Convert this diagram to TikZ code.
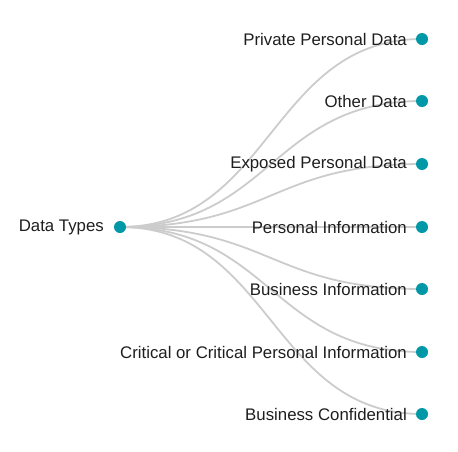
\documentclass[tikz,border=0pt]{standalone}
\usepackage{fontspec}
\setmainfont{Liberation Sans}
\definecolor{dotc}{HTML}{0097A7}
\definecolor{linkc}{HTML}{CCCCCC}
\definecolor{txtc}{HTML}{1E1E1E}
\begin{document}
\begin{tikzpicture}[x=1pt,y=-1pt,
  dot/.style={circle,fill=dotc,inner sep=0pt,minimum size=12pt},
  lbl/.style={font=\fontsize{16.8}{18}\selectfont,text=txtc,inner sep=0pt},
  link/.style={draw=linkc,line width=1.8pt}]
\useasboundingbox (0,0) rectangle (458,451);
\coordinate (r) at (120,227);
\foreach \n/\y/\t in {a/39/Private Personal Data,b/101/Other Data,c/164/Exposed Personal Data,d/227/Personal Information,e/289/Business Information,f/352/Critical or Critical Personal Information,g/414/Business Confidential}{
  \coordinate (\n) at (422,\y);
  \draw[link] (r) .. controls (271,227) and (271,\y) .. (\n);
}
\node[dot] (root) at (r) {};
\node[lbl,anchor=east] (rootl) at (104,227) {Data Types};
\foreach \n/\y/\t in {a/39/Private Personal Data,b/101/Other Data,c/164/Exposed Personal Data,d/227/Personal Information,e/289/Business Information,f/352/Critical or Critical Personal Information,g/414/Business Confidential}{
  \node[dot] (\n dot) at (\n) {};
  \node[lbl,anchor=east] (\n l) at (407,\y) {\t};
}
\end{tikzpicture}
\end{document}
